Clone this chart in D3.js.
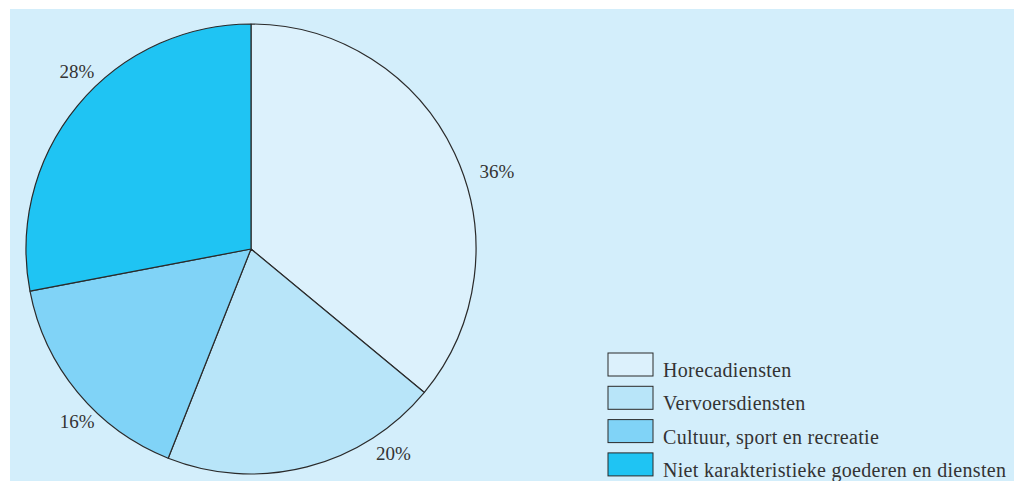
<!DOCTYPE html>
<html><head><meta charset="utf-8">
<script src="https://cdn.jsdelivr.net/npm/d3@7"></script>
<style>body{margin:0;background:#fff;}svg{display:block;}</style>
</head><body>
<svg id="chart" width="1014" height="481"></svg>
<script>
const categories = ["Horecadiensten","Vervoersdiensten","Cultuur, sport en recreatie","Niet karakteristieke goederen en diensten"];
const values = [36, 20, 16, 28];
const labels = ["36%","20%","16%","28%"];
const colors = ["#dcf1fc","#b8e5f9","#80d3f7","#1fc4f3"];

const svg = d3.select("#chart");
const W = 1014, H = 481;
svg.append("rect").attr("x",10).attr("y",9).attr("width",W-10).attr("height",H-9).attr("fill","#d3eefb");

const cx = 251, cy = 249, R = 225;
const pie = d3.pie().sort(null).value(d=>d)(values);
const arc = d3.arc().innerRadius(0).outerRadius(R);
const g = svg.append("g").attr("transform",`translate(${cx},${cy})`);
g.selectAll("path").data(pie).join("path")
  .attr("d",arc).attr("fill",(d,i)=>colors[i])
  .attr("stroke","#2a2a2a").attr("stroke-width",1.2).attr("stroke-linejoin","round");

// percentage labels placed just outside the rim (angle shift in degrees, radius)
const labelShift = [7.6, -20.5, -5.2, 6.0];
const labelRad = [R+33, R+24, R+20, R+24];
g.selectAll("text.pct").data(pie).join("text").attr("class","pct")
  .each(function(d,i){
    const a=(d.startAngle+d.endAngle)/2 + labelShift[i]*Math.PI/180;
    const rr = labelRad[i];
    d3.select(this).attr("x",Math.sin(a)*rr).attr("y",-Math.cos(a)*rr);
  })
  .attr("text-anchor","middle").attr("dominant-baseline","central")
  .attr("font-family","'Liberation Serif', serif").attr("font-size",19).attr("fill","#333")
  .text((d,i)=>labels[i]);

// legend
const lg = svg.append("g").attr("transform","translate(608,353)");
const items = lg.selectAll("g").data(categories).join("g")
  .attr("transform",(d,i)=>`translate(0,${i*33.3})`);
items.append("rect").attr("x",0).attr("y",0).attr("width",45).attr("height",23)
  .attr("fill",(d,i)=>colors[i]).attr("stroke","#2a2a2a").attr("stroke-width",1);
items.append("text").attr("x",55).attr("y",24)
  .attr("font-family","'Liberation Serif', serif").attr("font-size",20).attr("letter-spacing",0.3).attr("fill","#333")
  .text(d=>d);
</script>
</body></html>
